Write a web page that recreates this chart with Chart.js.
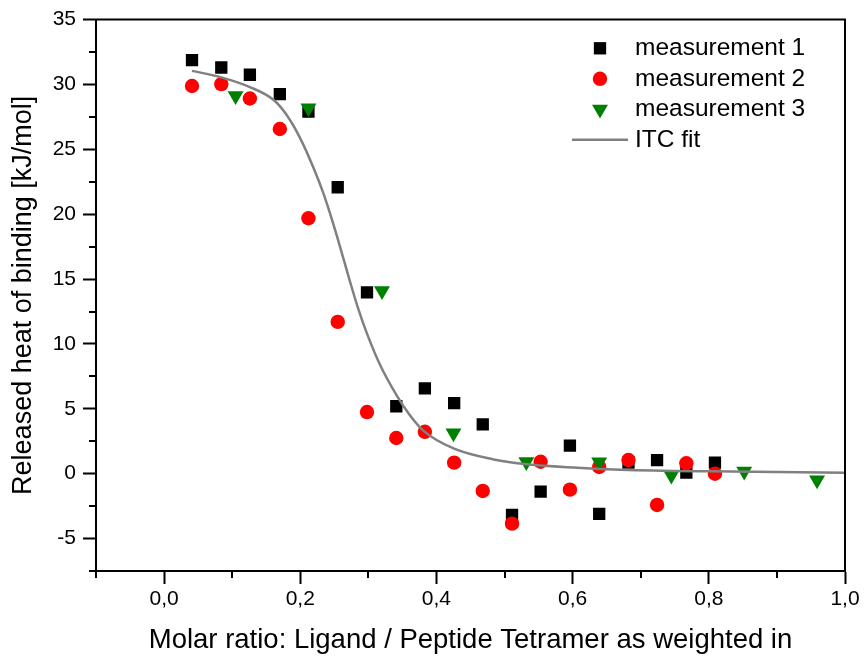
<!DOCTYPE html>
<html>
<head>
<meta charset="utf-8">
<script src="https://cdn.jsdelivr.net/npm/chart.js@4/dist/chart.umd.min.js"></script>
<style>
html,body{margin:0;padding:0;background:#ffffff;}
#wrap{width:864px;height:661px;position:relative;}
canvas{display:block;}
</style>
</head>
<body>
<div id="wrap"><canvas id="c" width="864" height="661"></canvas></div>
<script>
// ---- data ----
const ratio1 = [0.041, 0.084, 0.126, 0.170, 0.212, 0.255, 0.298, 0.341, 0.383, 0.426, 0.468, 0.511, 0.553, 0.596, 0.639, 0.682, 0.724, 0.767, 0.809];
const heat1  = [31.88, 31.31, 30.75, 29.26, 27.90, 22.08, 13.98, 5.20, 6.57, 5.44, 3.80, -3.18, -1.38, 2.16, -3.10, 0.85, 1.05, 0.08, 0.85];

const ratio2 = [0.041, 0.084, 0.126, 0.170, 0.212, 0.255, 0.298, 0.341, 0.383, 0.426, 0.468, 0.511, 0.553, 0.596, 0.639, 0.682, 0.724, 0.767, 0.809];
const heat2  = [29.88, 30.03, 28.92, 26.57, 19.69, 11.70, 4.75, 2.75, 3.23, 0.85, -1.33, -3.85, 0.92, -1.23, 0.52, 1.05, -2.41, 0.80, 0.00];

const ratio3 = [0.105, 0.212, 0.320, 0.425, 0.532, 0.639, 0.745, 0.852, 0.959];
const heat3  = [29.12, 28.18, 14.10, 3.13, 0.92, 0.90, -0.13, 0.19, -0.49];

const fitRatio = [0.041, 0.084, 0.126, 0.161, 0.180, 0.200, 0.220, 0.234, 0.247, 0.260, 0.272, 0.284, 0.298, 0.318, 0.342, 0.361, 0.381, 0.425, 0.484, 0.533, 0.607, 0.671, 0.800, 1.000];
const fitHeat  = [31.05, 30.55, 29.80, 28.80, 27.65, 25.85, 23.50, 21.60, 19.50, 17.20, 15.00, 12.90, 10.80, 8.30, 6.00, 4.50, 3.30, 1.95, 1.10, 0.72, 0.46, 0.31, 0.18, 0.08];

const seriesLabels = ['measurement 1', 'measurement 2', 'measurement 3', 'ITC fit'];
const xTitle = 'Molar ratio: Ligand / Peptide Tetramer as weighted in';
const yTitle = 'Released heat of binding [kJ/mol]';

const xTickValues = [0.0, 0.2, 0.4, 0.6, 0.8, 1.0];
const xMinorTickValues = [-0.1, 0.1, 0.3, 0.5, 0.7, 0.9];
const yTickValues = [-5, 0, 5, 10, 15, 20, 25, 30, 35];
const yMinorTickValues = [-7.5, -2.5, 2.5, 7.5, 12.5, 17.5, 22.5, 27.5, 32.5];

// ---- styling ----
const FONT = "'Liberation Sans', Arial, sans-serif";
Chart.defaults.font.family = FONT;
Chart.defaults.color = '#000000';

const toPoints = (xs, ys) => xs.map((x, i) => ({x: x, y: ys[i]}));

const framePlugin = {
  id: 'frameAndMinor',
  afterDraw(chart) {
    const {ctx, chartArea: a, scales} = chart;
    ctx.save();
    ctx.strokeStyle = '#000000';
    ctx.lineWidth = 2;
    ctx.lineCap = 'butt';
    // top and right frame lines
    ctx.beginPath();
    ctx.moveTo(a.left - 1, a.top);
    ctx.lineTo(a.right, a.top);
    ctx.lineTo(a.right, a.bottom + 1);
    ctx.stroke();
    // minor ticks
    ctx.beginPath();
    xMinorTickValues.forEach(v => {
      const px = Math.round(scales.x.getPixelForValue(v));
      ctx.moveTo(px, a.bottom);
      ctx.lineTo(px, a.bottom + 7);
    });
    yMinorTickValues.forEach(v => {
      const py = Math.round(scales.y.getPixelForValue(v));
      ctx.moveTo(a.left, py);
      ctx.lineTo(a.left - 7, py);
    });
    ctx.stroke();
    ctx.restore();
  }
};

const legendPlugin = {
  id: 'insideLegend',
  afterDraw(chart) {
    const ctx = chart.ctx;
    const a = chart.chartArea;
    const markerX = a.left + 504;
    const textX = a.left + 539;
    const y0 = a.top + 28.7;
    const step = 30.5;
    ctx.save();
    ctx.font = "24.5px " + FONT;
    ctx.textBaseline = 'middle';
    ctx.textAlign = 'left';
    chart.data.datasets.forEach((ds, i) => {
      const y = y0 + i * step;
      ctx.fillStyle = ds.backgroundColor || ds.borderColor;
      ctx.strokeStyle = ds.borderColor;
      if (ds.showLine) {
        ctx.lineWidth = ds.borderWidth;
        ctx.beginPath();
        ctx.moveTo(markerX - 28, y);
        ctx.lineTo(markerX + 28, y);
        ctx.stroke();
      } else if (ds.pointStyle === 'rect') {
        const s = Math.SQRT1_2 * ds.pointRadius;
        ctx.fillRect(markerX - s, y - s, 2 * s, 2 * s);
      } else if (ds.pointStyle === 'circle') {
        ctx.beginPath();
        ctx.arc(markerX, y, ds.pointRadius, 0, Math.PI * 2);
        ctx.fill();
      } else if (ds.pointStyle === 'triangle') {
        const r = ds.pointRadius;
        ctx.beginPath();
        ctx.moveTo(markerX, y + r);
        ctx.lineTo(markerX + r * Math.sin(Math.PI / 3), y - r / 2);
        ctx.lineTo(markerX - r * Math.sin(Math.PI / 3), y - r / 2);
        ctx.closePath();
        ctx.fill();
      }
      ctx.fillStyle = '#000000';
      ctx.fillText(ds.label, textX, y);
    });
    ctx.restore();
  }
};

new Chart(document.getElementById('c'), {
  type: 'scatter',
  data: {
    datasets: [
      {
        label: seriesLabels[0],
        data: toPoints(ratio1, heat1),
        pointStyle: 'rect',
        pointRadius: 8.7,
        pointHoverRadius: 8.7,
        backgroundColor: '#000000',
        borderColor: '#000000',
        borderWidth: 0,
        order: 3
      },
      {
        label: seriesLabels[1],
        data: toPoints(ratio2, heat2),
        pointStyle: 'circle',
        pointRadius: 7.2,
        pointHoverRadius: 7.2,
        backgroundColor: '#ff0000',
        borderColor: '#ff0000',
        borderWidth: 0,
        order: 2
      },
      {
        label: seriesLabels[2],
        data: toPoints(ratio3, heat3),
        pointStyle: 'triangle',
        rotation: 180,
        pointRadius: 9.2,
        pointHoverRadius: 9.2,
        backgroundColor: '#008000',
        borderColor: '#008000',
        borderWidth: 0,
        order: 1
      },
      {
        type: 'line',
        label: seriesLabels[3],
        data: toPoints(fitRatio, fitHeat),
        showLine: true,
        pointRadius: 0,
        pointHoverRadius: 0,
        borderColor: '#808080',
        backgroundColor: '#808080',
        borderWidth: 2.5,
        fill: false,
        cubicInterpolationMode: 'monotone',
        order: 0
      }
    ]
  },
  options: {
    responsive: false,
    animation: false,
    devicePixelRatio: 1,
    layout: { padding: { top: 18, right: 19, left: 0, bottom: 0 } },
    plugins: {
      legend: { display: false },
      tooltip: { enabled: false },
      title: { display: false }
    },
    scales: {
      x: {
        type: 'linear',
        position: 'bottom',
        min: -0.1,
        max: 1.0,
        afterBuildTicks: s => { s.ticks = xTickValues.map(v => ({value: v})); },
        afterFit: s => { s.height = 90; },
        ticks: {
          callback: v => Number(v).toFixed(1).replace('.', ','),
          font: { size: 21, family: FONT },
          color: '#000000',
          padding: 3,
          maxRotation: 0,
          autoSkip: false
        },
        grid: {
          drawOnChartArea: false,
          drawTicks: true,
          tickLength: 13,
          tickWidth: 2,
          tickColor: '#000000'
        },
        border: { display: true, color: '#000000', width: 2 },
        title: {
          display: true,
          text: xTitle,
          font: { size: 27.5, family: FONT },
          color: '#000000',
          padding: { top: 0, bottom: 4 }
        }
      },
      y: {
        type: 'linear',
        position: 'left',
        min: -7.5,
        max: 35,
        afterBuildTicks: s => { s.ticks = yTickValues.map(v => ({value: v})); },
        afterFit: s => { s.width = 96; },
        ticks: {
          callback: v => String(v),
          font: { size: 21, family: FONT },
          color: '#000000',
          padding: 7,
          autoSkip: false
        },
        grid: {
          drawOnChartArea: false,
          drawTicks: true,
          tickLength: 13,
          tickWidth: 2,
          tickColor: '#000000'
        },
        border: { display: true, color: '#000000', width: 2 },
        title: {
          display: true,
          text: yTitle,
          font: { size: 27, family: FONT },
          color: '#000000',
          padding: { top: 7, bottom: 0 }
        }
      }
    }
  },
  plugins: [framePlugin, legendPlugin]
});
</script>
</body>
</html>
